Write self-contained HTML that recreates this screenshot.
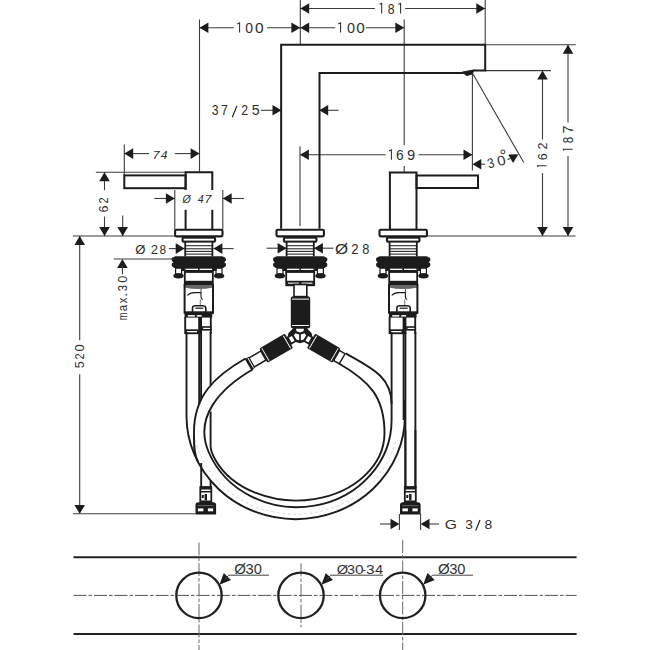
<!DOCTYPE html>
<html><head><meta charset="utf-8"><style>
html,body{margin:0;padding:0;background:#fff;}
svg{display:block;font-family:"Liberation Sans",sans-serif;}
</style></head><body>
<svg width="650" height="650" viewBox="0 0 650 650">
<rect x="0" y="0" width="650" height="650" fill="#fff"/>
<line x1="300.3" y1="0" x2="300.3" y2="44.8" stroke="#3c3c3c" stroke-width="1.1" />
<line x1="485.2" y1="0" x2="485.2" y2="44.8" stroke="#3c3c3c" stroke-width="1.1" />
<line x1="199.5" y1="19.5" x2="199.5" y2="172.3" stroke="#3c3c3c" stroke-width="1.1" />
<line x1="404.2" y1="19.4" x2="404.2" y2="145.2" stroke="#3c3c3c" stroke-width="1.1" />
<line x1="404.2" y1="166" x2="404.2" y2="172.5" stroke="#3c3c3c" stroke-width="1.1" />
<line x1="300.3" y1="8.5" x2="374.8" y2="8.5" stroke="#3c3c3c" stroke-width="1.1" />
<line x1="405.2" y1="8.5" x2="485.2" y2="8.5" stroke="#3c3c3c" stroke-width="1.1" />
<polygon points="300.30,8.50 309.20,3.20 309.20,13.80" fill="#1c1c1c"/>
<polygon points="485.20,8.50 476.30,13.80 476.30,3.20" fill="#1c1c1c"/>
<line x1="199.5" y1="27.7" x2="233.8" y2="27.7" stroke="#3c3c3c" stroke-width="1.1" />
<line x1="267" y1="27.7" x2="300.3" y2="27.7" stroke="#3c3c3c" stroke-width="1.1" />
<polygon points="199.50,27.70 208.40,22.40 208.40,33.00" fill="#1c1c1c"/>
<polygon points="300.30,27.70 291.40,33.00 291.40,22.40" fill="#1c1c1c"/>
<line x1="300.3" y1="27.7" x2="335.2" y2="27.7" stroke="#3c3c3c" stroke-width="1.1" />
<line x1="366.1" y1="27.7" x2="404.2" y2="27.7" stroke="#3c3c3c" stroke-width="1.1" />
<polygon points="300.30,27.70 309.20,22.40 309.20,33.00" fill="#1c1c1c"/>
<polygon points="404.20,27.70 395.30,33.00 395.30,22.40" fill="#1c1c1c"/>
<line x1="261" y1="110.3" x2="281.4" y2="110.3" stroke="#3c3c3c" stroke-width="1.1" />
<polygon points="281.40,110.30 272.50,115.60 272.50,105.00" fill="#1c1c1c"/>
<line x1="319.3" y1="110.3" x2="338.5" y2="110.3" stroke="#3c3c3c" stroke-width="1.1" />
<polygon points="319.30,110.30 328.20,105.00 328.20,115.60" fill="#1c1c1c"/>
<line x1="124.3" y1="144.6" x2="124.3" y2="175.4" stroke="#3c3c3c" stroke-width="1.1" />
<line x1="124.3" y1="153.6" x2="149" y2="153.6" stroke="#3c3c3c" stroke-width="1.1" />
<line x1="174.8" y1="153.6" x2="199.5" y2="153.6" stroke="#3c3c3c" stroke-width="1.1" />
<polygon points="124.30,153.60 133.20,148.30 133.20,158.90" fill="#1c1c1c"/>
<polygon points="199.50,153.60 190.60,158.90 190.60,148.30" fill="#1c1c1c"/>
<line x1="300" y1="146.3" x2="300" y2="226" stroke="#3c3c3c" stroke-width="1.1" />
<line x1="300" y1="154.7" x2="385.7" y2="154.7" stroke="#3c3c3c" stroke-width="1.1" />
<line x1="418.5" y1="154.7" x2="472.4" y2="154.7" stroke="#3c3c3c" stroke-width="1.1" />
<polygon points="300.00,154.70 308.90,149.40 308.90,160.00" fill="#1c1c1c"/>
<polygon points="472.40,154.70 463.50,160.00 463.50,149.40" fill="#1c1c1c"/>
<line x1="472.4" y1="73" x2="472.4" y2="170.5" stroke="#3c3c3c" stroke-width="1.1" />
<line x1="472.4" y1="73" x2="523.8" y2="162.6" stroke="#3c3c3c" stroke-width="1.1" />
<polygon points="472.40,164.20 481.30,158.90 481.30,169.50" fill="#1c1c1c"/>
<line x1="481" y1="164.2" x2="485" y2="164.2" stroke="#3c3c3c" stroke-width="1.1" />
<polygon points="518.4,154.3 513.1,163.1 508.1,154.5" fill="#1c1c1c"/>
<line x1="507.5" y1="159.5" x2="510.5" y2="158.5" stroke="#3c3c3c" stroke-width="1.1" />
<line x1="485.2" y1="44.8" x2="575.7" y2="44.8" stroke="#3c3c3c" stroke-width="1.1" />
<line x1="485.2" y1="70.6" x2="551" y2="70.6" stroke="#3c3c3c" stroke-width="1.1" />
<line x1="72.9" y1="236" x2="175.1" y2="236" stroke="#3c3c3c" stroke-width="1.1" />
<line x1="427" y1="236" x2="575.7" y2="236" stroke="#3c3c3c" stroke-width="1.1" />
<line x1="542.5" y1="72" x2="542.5" y2="139.5" stroke="#3c3c3c" stroke-width="1.1" />
<line x1="542.5" y1="173" x2="542.5" y2="236" stroke="#3c3c3c" stroke-width="1.1" />
<polygon points="542.50,70.60 547.80,79.50 537.20,79.50" fill="#1c1c1c"/>
<polygon points="542.50,236.00 537.20,227.10 547.80,227.10" fill="#1c1c1c"/>
<line x1="568" y1="44.8" x2="568" y2="122.5" stroke="#3c3c3c" stroke-width="1.1" />
<line x1="568" y1="156" x2="568" y2="236" stroke="#3c3c3c" stroke-width="1.1" />
<polygon points="568.00,44.80 573.30,53.70 562.70,53.70" fill="#1c1c1c"/>
<polygon points="568.00,236.00 562.70,227.10 573.30,227.10" fill="#1c1c1c"/>
<line x1="95.8" y1="172.3" x2="185.6" y2="172.3" stroke="#3c3c3c" stroke-width="1.1" />
<line x1="104.5" y1="172.3" x2="104.5" y2="190.2" stroke="#3c3c3c" stroke-width="1.1" />
<line x1="104.5" y1="216.6" x2="104.5" y2="236" stroke="#3c3c3c" stroke-width="1.1" />
<polygon points="104.50,172.30 109.80,181.20 99.20,181.20" fill="#1c1c1c"/>
<polygon points="104.50,236.00 99.20,227.10 109.80,227.10" fill="#1c1c1c"/>
<line x1="122.7" y1="215.4" x2="122.7" y2="236" stroke="#3c3c3c" stroke-width="1.1" />
<polygon points="122.70,236.00 117.40,227.10 128.00,227.10" fill="#1c1c1c"/>
<line x1="174.8" y1="190" x2="174.8" y2="229.5" stroke="#3c3c3c" stroke-width="1.1" />
<line x1="222.8" y1="190" x2="222.8" y2="229.5" stroke="#3c3c3c" stroke-width="1.1" />
<line x1="154.3" y1="198.5" x2="174.8" y2="198.5" stroke="#3c3c3c" stroke-width="1.1" />
<polygon points="174.80,198.50 165.90,203.80 165.90,193.20" fill="#1c1c1c"/>
<line x1="222.8" y1="198.5" x2="243.9" y2="198.5" stroke="#3c3c3c" stroke-width="1.1" />
<polygon points="222.80,198.50 231.70,193.20 231.70,203.80" fill="#1c1c1c"/>
<line x1="169" y1="248.6" x2="184.6" y2="248.6" stroke="#3c3c3c" stroke-width="1.1" />
<polygon points="184.60,248.60 175.70,253.90 175.70,243.30" fill="#1c1c1c"/>
<line x1="213.5" y1="248.6" x2="233.6" y2="248.6" stroke="#3c3c3c" stroke-width="1.1" />
<polygon points="213.50,248.60 222.40,243.30 222.40,253.90" fill="#1c1c1c"/>
<line x1="266.6" y1="248.2" x2="286.5" y2="248.2" stroke="#3c3c3c" stroke-width="1.1" />
<polygon points="286.50,248.20 277.60,253.50 277.60,242.90" fill="#1c1c1c"/>
<line x1="314" y1="248.2" x2="333.4" y2="248.2" stroke="#3c3c3c" stroke-width="1.1" />
<polygon points="314.00,248.20 322.90,242.90 322.90,253.50" fill="#1c1c1c"/>
<line x1="113.9" y1="259" x2="175" y2="259" stroke="#3c3c3c" stroke-width="1.1" />
<polygon points="122.40,259.00 127.70,267.90 117.10,267.90" fill="#1c1c1c"/>
<line x1="122.4" y1="265" x2="122.4" y2="274.3" stroke="#3c3c3c" stroke-width="1.1" />
<line x1="79.7" y1="236" x2="79.7" y2="340.3" stroke="#3c3c3c" stroke-width="1.1" />
<line x1="79.7" y1="374.2" x2="79.7" y2="513.8" stroke="#3c3c3c" stroke-width="1.1" />
<polygon points="79.70,236.00 85.00,244.90 74.40,244.90" fill="#1c1c1c"/>
<polygon points="79.70,513.80 74.40,504.90 85.00,504.90" fill="#1c1c1c"/>
<line x1="72.9" y1="513.8" x2="195.4" y2="513.8" stroke="#3c3c3c" stroke-width="1.1" />
<line x1="399.4" y1="514" x2="399.4" y2="530" stroke="#3c3c3c" stroke-width="1.1" />
<line x1="420.6" y1="514" x2="420.6" y2="530" stroke="#3c3c3c" stroke-width="1.1" />
<line x1="380" y1="524" x2="391" y2="524" stroke="#3c3c3c" stroke-width="1.1" />
<polygon points="399.40,524.00 390.50,529.30 390.50,518.70" fill="#1c1c1c"/>
<line x1="429" y1="524" x2="439" y2="524" stroke="#3c3c3c" stroke-width="1.1" />
<polygon points="420.60,524.00 429.50,518.70 429.50,529.30" fill="#1c1c1c"/>
<polyline points="281.15,228.80 281.15,44.80 485.20,44.80 485.20,70.60 474.20,70.60" stroke="#1c1c1c" stroke-width="2.0" fill="none" stroke-linejoin="miter" />
<polyline points="463.00,73.00 319.50,73.00 319.50,228.80" stroke="#1c1c1c" stroke-width="2.0" fill="none" stroke-linejoin="miter" />
<polygon points="462,72.2 474.5,69.8 472,74 466.8,75.6" fill="#1c1c1c" stroke="#1c1c1c" stroke-width="1"/>
<rect x="124.3" y="175.4" width="61.30" height="12.80" rx="0" stroke="#1c1c1c" stroke-width="2.0" fill="none" />
<polyline points="185.60,190.00 185.60,172.30 212.30,172.30 212.30,190.00" stroke="#1c1c1c" stroke-width="2.0" fill="none" stroke-linejoin="miter" />
<line x1="185.6" y1="209.8" x2="185.6" y2="229.5" stroke="#1c1c1c" stroke-width="2.0" />
<line x1="212.3" y1="209.8" x2="212.3" y2="229.5" stroke="#1c1c1c" stroke-width="2.0" />
<rect x="416.5" y="175.5" width="61.50" height="12.50" rx="0" stroke="#1c1c1c" stroke-width="2.0" fill="none" />
<rect x="389.9" y="172.5" width="26.60" height="57.30" rx="0" stroke="#1c1c1c" stroke-width="2.0" fill="none" />
<rect x="175.10000000000002" y="229.8" width="47.40" height="6.60" rx="1.3" stroke="#1c1c1c" stroke-width="2.1" fill="#fff" />
<rect x="181.50" y="236.60" width="34.60" height="6.20" rx="2.2" fill="#1c1c1c" />
<rect x="183.60" y="238.70" width="30.40" height="1.90" rx="0" fill="#fff" />
<rect x="185.20" y="242.80" width="27.20" height="13.50" rx="0" fill="#fff" />
<line x1="185.20000000000002" y1="245.7" x2="212.4" y2="245.7" stroke="#2a2a2a" stroke-width="1.1" />
<line x1="185.20000000000002" y1="248.8" x2="212.4" y2="248.8" stroke="#2a2a2a" stroke-width="1.1" />
<line x1="185.20000000000002" y1="251.4" x2="212.4" y2="251.4" stroke="#2a2a2a" stroke-width="1.1" />
<line x1="185.20000000000002" y1="254.1" x2="212.4" y2="254.1" stroke="#2a2a2a" stroke-width="1.1" />
<line x1="185.20000000000002" y1="241.5" x2="185.20000000000002" y2="256.5" stroke="#1c1c1c" stroke-width="1.8" />
<line x1="212.4" y1="241.5" x2="212.4" y2="256.5" stroke="#1c1c1c" stroke-width="1.8" />
<rect x="173.20" y="256.20" width="51.20" height="12.10" rx="2.5" fill="#1c1c1c" />
<ellipse cx="173.5" cy="259.6" rx="1.9" ry="2.4" fill="#1c1c1c"/>
<ellipse cx="173.5" cy="264.8" rx="1.9" ry="2.4" fill="#1c1c1c"/>
<ellipse cx="224.10000000000002" cy="259.6" rx="1.9" ry="2.4" fill="#1c1c1c"/>
<ellipse cx="224.10000000000002" cy="264.8" rx="1.9" ry="2.4" fill="#1c1c1c"/>
<rect x="175.00" y="267.50" width="7.20" height="6.70" rx="0" fill="#1c1c1c" />
<rect x="176.20" y="268.80" width="4.80" height="4.60" rx="0" fill="#fff" />
<ellipse cx="178.5" cy="275.8" rx="5.2" ry="2.6" fill="#1c1c1c"/>
<rect x="181.00" y="267.50" width="3.60" height="3.50" rx="0" fill="#1c1c1c" />
<rect x="215.40" y="267.50" width="7.20" height="6.70" rx="0" fill="#1c1c1c" />
<rect x="216.60" y="268.80" width="4.80" height="4.60" rx="0" fill="#fff" />
<ellipse cx="219.10000000000002" cy="275.8" rx="5.2" ry="2.6" fill="#1c1c1c"/>
<rect x="213.00" y="267.50" width="3.60" height="3.50" rx="0" fill="#1c1c1c" />
<rect x="184.30" y="267.50" width="29.00" height="5.10" rx="0" fill="#1c1c1c" />
<rect x="185.60" y="268.70" width="12.40" height="1.30" rx="0" fill="#fff" />
<rect x="199.60" y="268.70" width="12.40" height="1.30" rx="0" fill="#fff" />
<rect x="184.8" y="272.0" width="28.00" height="13.30" rx="0" stroke="#1c1c1c" stroke-width="1.8" fill="#fff" />
<rect x="184.80" y="280.80" width="28.00" height="4.50" rx="0" fill="#1c1c1c" />
<rect x="379.5" y="229.8" width="47.40" height="6.60" rx="1.3" stroke="#1c1c1c" stroke-width="2.1" fill="#fff" />
<rect x="385.90" y="236.60" width="34.60" height="6.20" rx="2.2" fill="#1c1c1c" />
<rect x="388.00" y="238.70" width="30.40" height="1.90" rx="0" fill="#fff" />
<rect x="389.60" y="242.80" width="27.20" height="13.50" rx="0" fill="#fff" />
<line x1="389.59999999999997" y1="245.7" x2="416.8" y2="245.7" stroke="#2a2a2a" stroke-width="1.1" />
<line x1="389.59999999999997" y1="248.8" x2="416.8" y2="248.8" stroke="#2a2a2a" stroke-width="1.1" />
<line x1="389.59999999999997" y1="251.4" x2="416.8" y2="251.4" stroke="#2a2a2a" stroke-width="1.1" />
<line x1="389.59999999999997" y1="254.1" x2="416.8" y2="254.1" stroke="#2a2a2a" stroke-width="1.1" />
<line x1="389.59999999999997" y1="241.5" x2="389.59999999999997" y2="256.5" stroke="#1c1c1c" stroke-width="1.8" />
<line x1="416.8" y1="241.5" x2="416.8" y2="256.5" stroke="#1c1c1c" stroke-width="1.8" />
<rect x="377.60" y="256.20" width="51.20" height="12.10" rx="2.5" fill="#1c1c1c" />
<ellipse cx="377.9" cy="259.6" rx="1.9" ry="2.4" fill="#1c1c1c"/>
<ellipse cx="377.9" cy="264.8" rx="1.9" ry="2.4" fill="#1c1c1c"/>
<ellipse cx="428.5" cy="259.6" rx="1.9" ry="2.4" fill="#1c1c1c"/>
<ellipse cx="428.5" cy="264.8" rx="1.9" ry="2.4" fill="#1c1c1c"/>
<rect x="379.40" y="267.50" width="7.20" height="6.70" rx="0" fill="#1c1c1c" />
<rect x="380.60" y="268.80" width="4.80" height="4.60" rx="0" fill="#fff" />
<ellipse cx="382.9" cy="275.8" rx="5.2" ry="2.6" fill="#1c1c1c"/>
<rect x="385.40" y="267.50" width="3.60" height="3.50" rx="0" fill="#1c1c1c" />
<rect x="419.80" y="267.50" width="7.20" height="6.70" rx="0" fill="#1c1c1c" />
<rect x="421.00" y="268.80" width="4.80" height="4.60" rx="0" fill="#fff" />
<ellipse cx="423.5" cy="275.8" rx="5.2" ry="2.6" fill="#1c1c1c"/>
<rect x="417.40" y="267.50" width="3.60" height="3.50" rx="0" fill="#1c1c1c" />
<rect x="388.70" y="267.50" width="29.00" height="5.10" rx="0" fill="#1c1c1c" />
<rect x="390.00" y="268.70" width="12.40" height="1.30" rx="0" fill="#fff" />
<rect x="404.00" y="268.70" width="12.40" height="1.30" rx="0" fill="#fff" />
<rect x="389.2" y="272.0" width="28.00" height="13.30" rx="0" stroke="#1c1c1c" stroke-width="1.8" fill="#fff" />
<rect x="389.20" y="280.80" width="28.00" height="4.50" rx="0" fill="#1c1c1c" />
<rect x="276.5" y="229.8" width="47.40" height="6.60" rx="1.3" stroke="#1c1c1c" stroke-width="2.1" fill="#fff" />
<rect x="282.90" y="236.60" width="34.60" height="6.20" rx="2.2" fill="#1c1c1c" />
<rect x="285.00" y="238.70" width="30.40" height="1.90" rx="0" fill="#fff" />
<rect x="286.60" y="242.80" width="27.20" height="13.50" rx="0" fill="#fff" />
<line x1="286.59999999999997" y1="245.7" x2="313.8" y2="245.7" stroke="#2a2a2a" stroke-width="1.1" />
<line x1="286.59999999999997" y1="248.8" x2="313.8" y2="248.8" stroke="#2a2a2a" stroke-width="1.1" />
<line x1="286.59999999999997" y1="251.4" x2="313.8" y2="251.4" stroke="#2a2a2a" stroke-width="1.1" />
<line x1="286.59999999999997" y1="254.1" x2="313.8" y2="254.1" stroke="#2a2a2a" stroke-width="1.1" />
<line x1="286.59999999999997" y1="241.5" x2="286.59999999999997" y2="256.5" stroke="#1c1c1c" stroke-width="1.8" />
<line x1="313.8" y1="241.5" x2="313.8" y2="256.5" stroke="#1c1c1c" stroke-width="1.8" />
<rect x="274.60" y="256.20" width="51.20" height="12.10" rx="2.5" fill="#1c1c1c" />
<ellipse cx="274.9" cy="259.6" rx="1.9" ry="2.4" fill="#1c1c1c"/>
<ellipse cx="274.9" cy="264.8" rx="1.9" ry="2.4" fill="#1c1c1c"/>
<ellipse cx="325.5" cy="259.6" rx="1.9" ry="2.4" fill="#1c1c1c"/>
<ellipse cx="325.5" cy="264.8" rx="1.9" ry="2.4" fill="#1c1c1c"/>
<rect x="276.40" y="267.50" width="7.20" height="6.70" rx="0" fill="#1c1c1c" />
<rect x="277.60" y="268.80" width="4.80" height="4.60" rx="0" fill="#fff" />
<ellipse cx="279.9" cy="275.8" rx="5.2" ry="2.6" fill="#1c1c1c"/>
<rect x="282.40" y="267.50" width="3.60" height="3.50" rx="0" fill="#1c1c1c" />
<rect x="316.80" y="267.50" width="7.20" height="6.70" rx="0" fill="#1c1c1c" />
<rect x="318.00" y="268.80" width="4.80" height="4.60" rx="0" fill="#fff" />
<ellipse cx="320.5" cy="275.8" rx="5.2" ry="2.6" fill="#1c1c1c"/>
<rect x="314.40" y="267.50" width="3.60" height="3.50" rx="0" fill="#1c1c1c" />
<rect x="285.70" y="267.50" width="29.00" height="5.10" rx="0" fill="#1c1c1c" />
<rect x="287.00" y="268.70" width="12.40" height="1.30" rx="0" fill="#fff" />
<rect x="301.00" y="268.70" width="12.40" height="1.30" rx="0" fill="#fff" />
<rect x="286.2" y="272.0" width="28.00" height="13.30" rx="0" stroke="#1c1c1c" stroke-width="1.8" fill="#fff" />
<rect x="286.20" y="280.80" width="28.00" height="4.50" rx="0" fill="#1c1c1c" />
<rect x="288.00" y="282.60" width="11.00" height="1.10" rx="0" fill="#fff" />
<rect x="301.40" y="282.60" width="11.00" height="1.10" rx="0" fill="#fff" />
<path d="M184.60000000000002,285 L213.0,285 L213.0,287.5 Q198.8,290.5 184.60000000000002,287.5 Z" fill="#666"/>
<polyline points="184.60,284.00 184.60,312.80 213.00,312.80 213.00,284.00" stroke="#1c1c1c" stroke-width="2" fill="none" stroke-linejoin="miter" />
<line x1="184.60000000000002" y1="312.8" x2="213.0" y2="312.8" stroke="#1c1c1c" stroke-width="2.6" />
<path d="M187.3,295.5 Q189.8,292.6 194.20000000000002,292.6 L201.0,292.6 L201.0,297 Q201.0,299 202.8,299.5" stroke="#1c1c1c" stroke-width="1.1" fill="none" />
<line x1="201.0" y1="289" x2="201.0" y2="292.6" stroke="#444" stroke-width="1.0" />
<line x1="200.3" y1="299.5" x2="200.3" y2="306" stroke="#777" stroke-width="1.0" />
<path d="M192.5,312.8 L192.5,308 Q192.5,305.8 195.3,305.8 L202.3,305.8 Q205.8,305.8 205.8,308 L205.8,312.8" stroke="#1c1c1c" stroke-width="1.6" fill="none"/>
<rect x="195.30" y="307.50" width="8.00" height="1.50" rx="0" fill="#444" />
<rect x="184.60" y="311.80" width="27.60" height="5.80" rx="0" fill="#1c1c1c" />
<rect x="187.80" y="315.10" width="7.10" height="1.50" rx="0" fill="#fff" />
<rect x="196.80" y="315.10" width="4.90" height="1.50" rx="0" fill="#fff" />
<line x1="185.20000000000002" y1="317" x2="185.20000000000002" y2="334" stroke="#1c1c1c" stroke-width="1.9" />
<line x1="210.8" y1="317" x2="210.8" y2="334" stroke="#1c1c1c" stroke-width="1.9" />
<rect x="198.20" y="317.00" width="3.80" height="17.20" rx="0" fill="#1c1c1c" />
<rect x="185.20" y="329.30" width="13.40" height="4.90" rx="0" fill="#1c1c1c" />
<rect x="186.80" y="331.00" width="10.20" height="1.30" rx="0" fill="#fff" />
<rect x="201.70" y="326.20" width="9.70" height="4.40" rx="0" fill="#1c1c1c" />
<rect x="203.20" y="327.80" width="6.80" height="1.20" rx="0" fill="#fff" />
<path d="M389.0,285 L417.4,285 L417.4,287.5 Q403.2,290.5 389.0,287.5 Z" fill="#666"/>
<polyline points="389.00,284.00 389.00,312.80 417.40,312.80 417.40,284.00" stroke="#1c1c1c" stroke-width="2" fill="none" stroke-linejoin="miter" />
<line x1="389.0" y1="312.8" x2="417.4" y2="312.8" stroke="#1c1c1c" stroke-width="2.6" />
<path d="M391.7,295.5 Q394.2,292.6 398.59999999999997,292.6 L405.4,292.6 L405.4,297 Q405.4,299 407.2,299.5" stroke="#1c1c1c" stroke-width="1.1" fill="none" />
<line x1="405.4" y1="289" x2="405.4" y2="292.6" stroke="#444" stroke-width="1.0" />
<line x1="404.7" y1="299.5" x2="404.7" y2="306" stroke="#777" stroke-width="1.0" />
<path d="M396.9,312.8 L396.9,308 Q396.9,305.8 399.7,305.8 L406.7,305.8 Q410.2,305.8 410.2,308 L410.2,312.8" stroke="#1c1c1c" stroke-width="1.6" fill="none"/>
<rect x="399.70" y="307.50" width="8.00" height="1.50" rx="0" fill="#444" />
<rect x="389.00" y="311.80" width="27.60" height="5.80" rx="0" fill="#1c1c1c" />
<rect x="392.20" y="315.10" width="7.10" height="1.50" rx="0" fill="#fff" />
<rect x="401.20" y="315.10" width="4.90" height="1.50" rx="0" fill="#fff" />
<line x1="389.59999999999997" y1="317" x2="389.59999999999997" y2="334" stroke="#1c1c1c" stroke-width="1.9" />
<line x1="415.2" y1="317" x2="415.2" y2="334" stroke="#1c1c1c" stroke-width="1.9" />
<rect x="402.60" y="317.00" width="3.80" height="17.20" rx="0" fill="#1c1c1c" />
<rect x="389.60" y="329.30" width="13.40" height="4.90" rx="0" fill="#1c1c1c" />
<rect x="391.20" y="331.00" width="10.20" height="1.30" rx="0" fill="#fff" />
<rect x="406.10" y="326.20" width="9.70" height="4.40" rx="0" fill="#1c1c1c" />
<rect x="407.60" y="327.80" width="6.80" height="1.20" rx="0" fill="#fff" />
<rect x="294" y="284.5" width="12.80" height="12.10" rx="0" stroke="#1c1c1c" stroke-width="1.6" fill="#fff" />
<rect x="290.80" y="296.20" width="19.40" height="32.20" rx="2.5" fill="#1c1c1c" />
<rect x="292.00" y="298.60" width="17.00" height="1.00" rx="0" fill="#fff" />
<rect x="292.00" y="325.00" width="17.00" height="1.00" rx="0" fill="#fff" />
<polygon points="294.2,327.2 305.8,327.2 311.5,333 313,339.5 300,343.2 287,339.5 288.5,333" fill="#1c1c1c"/>
<polygon points="296,328.7 304,328.7 303.4,331.2 300,332.6 296.6,331.2" fill="#fff"/>
<polygon points="295.4,333.2 299.2,334.4 299.2,340.3 296.6,339.8 293.6,335.6" fill="#fff"/>
<polygon points="304.6,333.2 300.8,334.4 300.8,340.3 303.4,339.8 306.4,335.6" fill="#fff"/>
<g transform="translate(276.2,348.2) rotate(-30)"><rect x="-14.8" y="-8.3" width="29.6" height="16.6" rx="1.5" fill="#1c1c1c"/><rect x="-12.9" y="-7.3" width="0.9" height="14.6" fill="#fff"/><rect x="12.0" y="-7.3" width="0.9" height="14.6" fill="#fff"/><rect x="15.2" y="-3.6" width="5.4" height="7.2" fill="#fff" stroke="#1c1c1c" stroke-width="1.8"/><rect x="-28.5" y="-5.2" width="13.7" height="10.4" fill="#fff" stroke="#1c1c1c" stroke-width="1.5"/><rect x="-32.6" y="-6.4" width="4.6" height="12.8" fill="#1c1c1c"/><rect x="-29.9" y="-5.6" width="0.9" height="11.2" fill="#fff"/></g>
<g transform="translate(323.8,348.2) rotate(30)"><rect x="-14.8" y="-8.3" width="29.6" height="16.6" rx="1.5" fill="#1c1c1c"/><rect x="-12.9" y="-7.3" width="0.9" height="14.6" fill="#fff"/><rect x="12.0" y="-7.3" width="0.9" height="14.6" fill="#fff"/><rect x="-20.6" y="-3.6" width="5.4" height="7.2" fill="#fff" stroke="#1c1c1c" stroke-width="1.8"/><rect x="14.8" y="-5.8" width="6.4" height="11.6" fill="#fff" stroke="#1c1c1c" stroke-width="1.4"/></g>
<line x1="199.2" y1="332" x2="199.2" y2="405" stroke="#1c1c1c" stroke-width="1.9" />
<line x1="201.1" y1="332" x2="201.1" y2="399" stroke="#1c1c1c" stroke-width="1.9" />
<line x1="210.6" y1="332" x2="210.6" y2="385" stroke="#1c1c1c" stroke-width="1.9" />
<line x1="403.6" y1="332" x2="403.6" y2="420" stroke="#1c1c1c" stroke-width="1.9" />
<line x1="405.4" y1="332" x2="405.4" y2="488" stroke="#1c1c1c" stroke-width="1.9" />
<line x1="415.4" y1="332" x2="415.4" y2="488" stroke="#1c1c1c" stroke-width="1.9" />
<path d="M186.50,332 L186.50,415.9 A109.2,103.3 0 0 0 404.90,415.9 L404.90,400" stroke="#1c1c1c" stroke-width="1.9" fill="none" />
<path d="M253.00,369.20 C220.09,388.20 193.65,417.08 208.64,452.00 A94.8,87.3 0 0 0 391.60,419.9 L391.60,332" stroke="#1c1c1c" stroke-width="1.9" fill="none" />
<path d="M245.40,358.50 C214.22,376.50 194.00,396.00 194.00,432.00 C194.00,442.00 193.31,453.15 197.98,462.00" stroke="#1c1c1c" stroke-width="1.9" fill="none" />
<path d="M210.6,411.5 L210.6,446 C210.60,451.00 212.99,455.66 215.46,460.00 A88.2,67.5 0 0 0 384.50,433.0" stroke="#1c1c1c" stroke-width="1.9" fill="none" />
<path d="M338.50,363.20 C369.68,381.20 384.50,397.00 384.50,433.00" stroke="#1c1c1c" stroke-width="1.9" fill="none" />
<path d="M345.80,353.40 C370.05,367.40 391.60,376.00 391.60,404.00" stroke="#1c1c1c" stroke-width="1.9" fill="none" />
<path d="M195.25,440 A103.2,96.3 0 0 0 396.15,440" stroke="#cfcfcf" stroke-width="0.9" fill="none" stroke-dasharray="2.5 3"/>
<line x1="201.2" y1="463" x2="201.2" y2="487" stroke="#1c1c1c" stroke-width="1.9" />
<line x1="210.6" y1="480.8" x2="210.6" y2="487" stroke="#1c1c1c" stroke-width="1.9" />
<rect x="200.3" y="487" width="11.00" height="15.30" rx="0" stroke="#1c1c1c" stroke-width="1.8" fill="#fff" />
<rect x="200.30" y="487.00" width="11.00" height="2.50" rx="0" fill="#1c1c1c" />
<rect x="200.30" y="491.00" width="11.00" height="1.50" rx="0" fill="#1c1c1c" />
<rect x="200.30" y="500.50" width="11.00" height="1.80" rx="0" fill="#1c1c1c" />
<rect x="204.60" y="494.00" width="2.40" height="6.50" rx="0" fill="#1c1c1c" />
<rect x="201.80" y="495.00" width="2.00" height="3.00" rx="0" fill="#1c1c1c" />
<path d="M195.5,514.6 L195.5,505 Q195.5,502.3 198.3,502.3 L213.3,502.3 Q216.10000000000002,502.3 216.10000000000002,505 L216.10000000000002,514.6 Z" fill="#1c1c1c"/>
<rect x="197.90" y="508.40" width="5.50" height="2.90" rx="0" fill="#fff" />
<rect x="207.90" y="508.40" width="5.30" height="2.90" rx="0" fill="#fff" />
<rect x="197.80" y="505.30" width="16.00" height="0.80" rx="0" fill="#777" />
<line x1="405.4" y1="430" x2="405.4" y2="487" stroke="#1c1c1c" stroke-width="1.9" />
<line x1="415.4" y1="430" x2="415.4" y2="487" stroke="#1c1c1c" stroke-width="1.9" />
<rect x="404.8" y="487" width="11.00" height="15.30" rx="0" stroke="#1c1c1c" stroke-width="1.8" fill="#fff" />
<rect x="404.80" y="487.00" width="11.00" height="2.50" rx="0" fill="#1c1c1c" />
<rect x="404.80" y="491.00" width="11.00" height="1.50" rx="0" fill="#1c1c1c" />
<rect x="404.80" y="500.50" width="11.00" height="1.80" rx="0" fill="#1c1c1c" />
<rect x="409.10" y="494.00" width="2.40" height="6.50" rx="0" fill="#1c1c1c" />
<rect x="406.30" y="495.00" width="2.00" height="3.00" rx="0" fill="#1c1c1c" />
<path d="M400.0,514.6 L400.0,505 Q400.0,502.3 402.8,502.3 L417.8,502.3 Q420.6,502.3 420.6,505 L420.6,514.6 Z" fill="#1c1c1c"/>
<rect x="402.40" y="508.40" width="5.50" height="2.90" rx="0" fill="#fff" />
<rect x="412.40" y="508.40" width="5.30" height="2.90" rx="0" fill="#fff" />
<rect x="402.30" y="505.30" width="16.00" height="0.80" rx="0" fill="#777" />
<line x1="73.5" y1="557.2" x2="576.6" y2="557.2" stroke="#222" stroke-width="2.0" />
<line x1="73.5" y1="634" x2="576.6" y2="634" stroke="#222" stroke-width="2.0" />
<line x1="73.5" y1="595.4" x2="576.6" y2="595.4" stroke="#555" stroke-width="1.0" stroke-dasharray="13 2 3.5 2"/>
<line x1="199" y1="542.5" x2="199" y2="650" stroke="#666" stroke-width="1.0" stroke-dasharray="13 2 3.5 2"/>
<line x1="301" y1="563.4" x2="301" y2="627.4" stroke="#666" stroke-width="1.0" stroke-dasharray="13 2 3.5 2"/>
<line x1="402.7" y1="540" x2="402.7" y2="650" stroke="#666" stroke-width="1.0" stroke-dasharray="13 2 3.5 2"/>
<circle cx="199" cy="595.4" r="22.7" stroke="#222" stroke-width="2.3" fill="none"/>
<circle cx="301" cy="595.4" r="22.7" stroke="#222" stroke-width="2.3" fill="none"/>
<circle cx="402.7" cy="595.4" r="22.7" stroke="#222" stroke-width="2.3" fill="none"/>
<polygon points="219.40,584.80 223.79,573.05 230.99,580.00" fill="#1c1c1c"/>
<line x1="224.4" y1="579.5999999999999" x2="228.8" y2="575.2" stroke="#444" stroke-width="1.0" />
<line x1="228.8" y1="575.2" x2="269" y2="575.2" stroke="#444" stroke-width="1.0" />
<polygon points="321.40,584.80 325.79,573.05 332.99,580.00" fill="#1c1c1c"/>
<line x1="326.4" y1="579.5999999999999" x2="330.8" y2="575.2" stroke="#444" stroke-width="1.0" />
<line x1="330.8" y1="575.2" x2="383" y2="575.2" stroke="#444" stroke-width="1.0" />
<polygon points="423.10,584.80 427.49,573.05 434.69,580.00" fill="#1c1c1c"/>
<line x1="428.09999999999997" y1="579.5999999999999" x2="432.5" y2="575.2" stroke="#444" stroke-width="1.0" />
<line x1="432.5" y1="575.2" x2="473" y2="575.2" stroke="#444" stroke-width="1.0" />
<path d="M379.60,4.25 L381.70,3.20 L381.70,13.60" stroke="#2e2e2e" stroke-width="1.05" fill="none" stroke-linejoin="round"/>
<text transform="matrix(0.8677,0,0,1.0798,387.67,13.60)" font-size="14.0" fill="#2e2e2e">8</text>
<path d="M398.30,4.35 L400.60,3.20 L400.60,13.60" stroke="#2e2e2e" stroke-width="1.05" fill="none" stroke-linejoin="round"/>
<path d="M237.00,24.10 L239.60,22.80 L239.60,32.50" stroke="#2e2e2e" stroke-width="1.05" fill="none" stroke-linejoin="round"/>
<text transform="matrix(1.0011,0,0,1.0071,245.35,32.50)" font-size="14.0" fill="#2e2e2e">0</text>
<text transform="matrix(1.1057,0,0,1.0071,254.90,32.50)" font-size="14.0" fill="#2e2e2e">0</text>
<path d="M337.90,24.15 L340.60,22.80 L340.60,32.60" stroke="#2e2e2e" stroke-width="1.05" fill="none" stroke-linejoin="round"/>
<text transform="matrix(1.0310,0,0,1.0175,347.04,32.60)" font-size="14.0" fill="#2e2e2e">0</text>
<text transform="matrix(1.0908,0,0,1.0175,356.30,32.60)" font-size="14.0" fill="#2e2e2e">0</text>
<text transform="matrix(0.8738,0,0,1.0175,211.63,115.30)" font-size="14.0" fill="#2e2e2e">3</text>
<text transform="matrix(0.8799,0,0,1.0175,220.97,115.30)" font-size="14.0" fill="#2e2e2e">7</text>
<text transform="matrix(0.8780,0,0,1.0175,241.28,115.30)" font-size="14.0" fill="#2e2e2e">2</text>
<text transform="matrix(1.0245,0,0,1.0175,251.83,115.30)" font-size="14.0" fill="#2e2e2e">5</text>
<path d="M232.3,117.3 L236.9,105.9" stroke="#222" stroke-width="1.2"/>
<text transform="matrix(0.9161,0,0,0.8306,152.47,158.80)" font-size="14.0" fill="#2e2e2e" font-style="italic">7</text>
<text transform="matrix(0.8646,0,0,0.8306,160.82,158.80)" font-size="14.0" fill="#2e2e2e" font-style="italic">4</text>
<path d="M389.10,150.95 L391.40,149.80 L391.40,159.80" stroke="#2e2e2e" stroke-width="1.05" fill="none" stroke-linejoin="round"/>
<text transform="matrix(0.9907,0,0,1.0382,396.10,159.80)" font-size="14.0" fill="#2e2e2e">6</text>
<text transform="matrix(1.0515,0,0,1.0382,407.11,159.80)" font-size="14.0" fill="#2e2e2e">9</text>
<text transform="matrix(0.7620,0,0,0.7475,182.39,203.30)" font-size="14.0" fill="#2e2e2e" font-style="italic">&#216;</text>
<text transform="matrix(0.7670,0,0,0.7475,197.83,203.30)" font-size="14.0" fill="#2e2e2e" font-style="italic">4</text>
<text transform="matrix(0.9014,0,0,0.7475,204.49,203.30)" font-size="14.0" fill="#2e2e2e" font-style="italic">7</text>
<text transform="matrix(0.9363,0,0,0.8617,135.15,253.90)" font-size="14.0" fill="#2e2e2e">&#216;</text>
<text transform="matrix(0.9407,0,0,0.8617,150.64,253.90)" font-size="14.0" fill="#2e2e2e">2</text>
<text transform="matrix(0.8524,0,0,0.8617,159.48,253.90)" font-size="14.0" fill="#2e2e2e">8</text>
<text transform="matrix(1.2081,0,0,1.0486,335.11,253.90)" font-size="14.0" fill="#2e2e2e">&#216;</text>
<text transform="matrix(0.9407,0,0,1.0486,351.24,253.90)" font-size="14.0" fill="#2e2e2e">2</text>
<text transform="matrix(0.9133,0,0,1.0486,362.34,253.90)" font-size="14.0" fill="#2e2e2e">8</text>
<text transform="matrix(1.1160,0,0,0.9552,444.71,528.90)" font-size="14.0" fill="#2e2e2e">G</text>
<text transform="matrix(0.9793,0,0,0.9552,465.28,528.90)" font-size="14.0" fill="#2e2e2e">3</text>
<text transform="matrix(0.9894,0,0,0.9552,484.60,528.90)" font-size="14.0" fill="#2e2e2e">8</text>
<path d="M475.7,530.4 L480.0,519.9" stroke="#222" stroke-width="1.2"/>
<text transform="matrix(1.0773,0,0,0.9967,234.28,573.80)" font-size="14.0" fill="#333">&#216;</text>
<text transform="matrix(1.0546,0,0,0.9967,245.54,573.80)" font-size="14.0" fill="#333">3</text>
<text transform="matrix(1.0460,0,0,0.9967,253.63,573.80)" font-size="14.0" fill="#333">0</text>
<text transform="matrix(1.0773,0,0,0.9967,437.98,573.80)" font-size="14.0" fill="#333">&#216;</text>
<text transform="matrix(1.0546,0,0,0.9967,449.24,573.80)" font-size="14.0" fill="#333">3</text>
<text transform="matrix(1.0460,0,0,0.9967,457.33,573.80)" font-size="14.0" fill="#333">0</text>
<text transform="matrix(1.0471,0,0,0.9033,336.69,573.50)" font-size="14.0" fill="#333">&#216;</text>
<text transform="matrix(1.0245,0,0,0.9033,347.05,573.50)" font-size="14.0" fill="#333">3</text>
<text transform="matrix(1.1057,0,0,0.9033,355.00,573.50)" font-size="14.0" fill="#333">0</text>
<text transform="matrix(0.7314,0,0,0.9033,362.55,573.50)" font-size="14.0" fill="#333">-</text>
<text transform="matrix(1.1148,0,0,0.9033,366.11,573.50)" font-size="14.0" fill="#333">3</text>
<text transform="matrix(1.0489,0,0,0.9033,374.96,573.50)" font-size="14.0" fill="#333">4</text>
<text transform="matrix(0,-1.0213,0.9967,0,572.70,133.43)" font-size="14.0" fill="#2e2e2e">7</text>
<text transform="matrix(0,-0.8220,0.9967,0,572.70,143.20)" font-size="14.0" fill="#2e2e2e">8</text>
<path d="M563.80,150.60 L563.10,149.20 L572.70,149.20" stroke="#2e2e2e" stroke-width="1.05" fill="none" stroke-linejoin="round"/>
<text transform="matrix(0,-0.8937,0.9552,0,546.50,149.43)" font-size="14.0" fill="#2e2e2e">2</text>
<text transform="matrix(0,-0.8978,0.9552,0,546.50,160.24)" font-size="14.0" fill="#2e2e2e">6</text>
<path d="M537.95,167.10 L537.30,165.80 L546.50,165.80" stroke="#2e2e2e" stroke-width="1.05" fill="none" stroke-linejoin="round"/>
<text transform="matrix(0,-0.7840,0.8721,0,108.00,203.45)" font-size="14.0" fill="#2e2e2e">2</text>
<text transform="matrix(0,-0.8978,0.8721,0,108.00,212.44)" font-size="14.0" fill="#2e2e2e">6</text>
<text transform="matrix(0,-0.9264,0.9033,0,84.00,351.61)" font-size="14.0" fill="#2e2e2e">0</text>
<text transform="matrix(0,-0.7840,0.9033,0,84.00,359.55)" font-size="14.0" fill="#2e2e2e">2</text>
<text transform="matrix(0,-0.8889,0.9033,0,84.00,368.30)" font-size="14.0" fill="#2e2e2e">5</text>
<text transform="matrix(0,-0.9115,0.9136,0,126.50,282.80)" font-size="14.0" fill="#2e2e2e">0</text>
<text transform="matrix(0,-0.8135,0.9136,0,126.50,291.23)" font-size="14.0" fill="#2e2e2e">3</text>
<text transform="matrix(0,-1.2003,0.9136,0,126.50,296.93)" font-size="14.0" fill="#2e2e2e">.</text>
<text transform="matrix(0,-0.8069,0.9136,0,126.50,303.23)" font-size="14.0" fill="#2e2e2e">x</text>
<text transform="matrix(0,-0.8065,0.9136,0,126.50,311.28)" font-size="14.0" fill="#2e2e2e">a</text>
<text transform="matrix(0,-0.6728,0.9136,0,126.50,320.23)" font-size="14.0" fill="#2e2e2e">m</text>
<text transform="translate(490.85,163.10) rotate(-15) scale(0.860,0.980) translate(-3.85,4.82)" font-size="14.0" fill="#2e2e2e">3</text>
<text transform="translate(501.45,160.55) rotate(-15) scale(1.080,0.980) translate(-3.89,4.82)" font-size="14.0" fill="#2e2e2e">0</text>
<text transform="translate(502.90,151.80) rotate(-15) scale(1.200,1.200) translate(-2.80,7.83)" font-size="14.0" fill="#2e2e2e">&#176;</text>
</svg></body></html>
